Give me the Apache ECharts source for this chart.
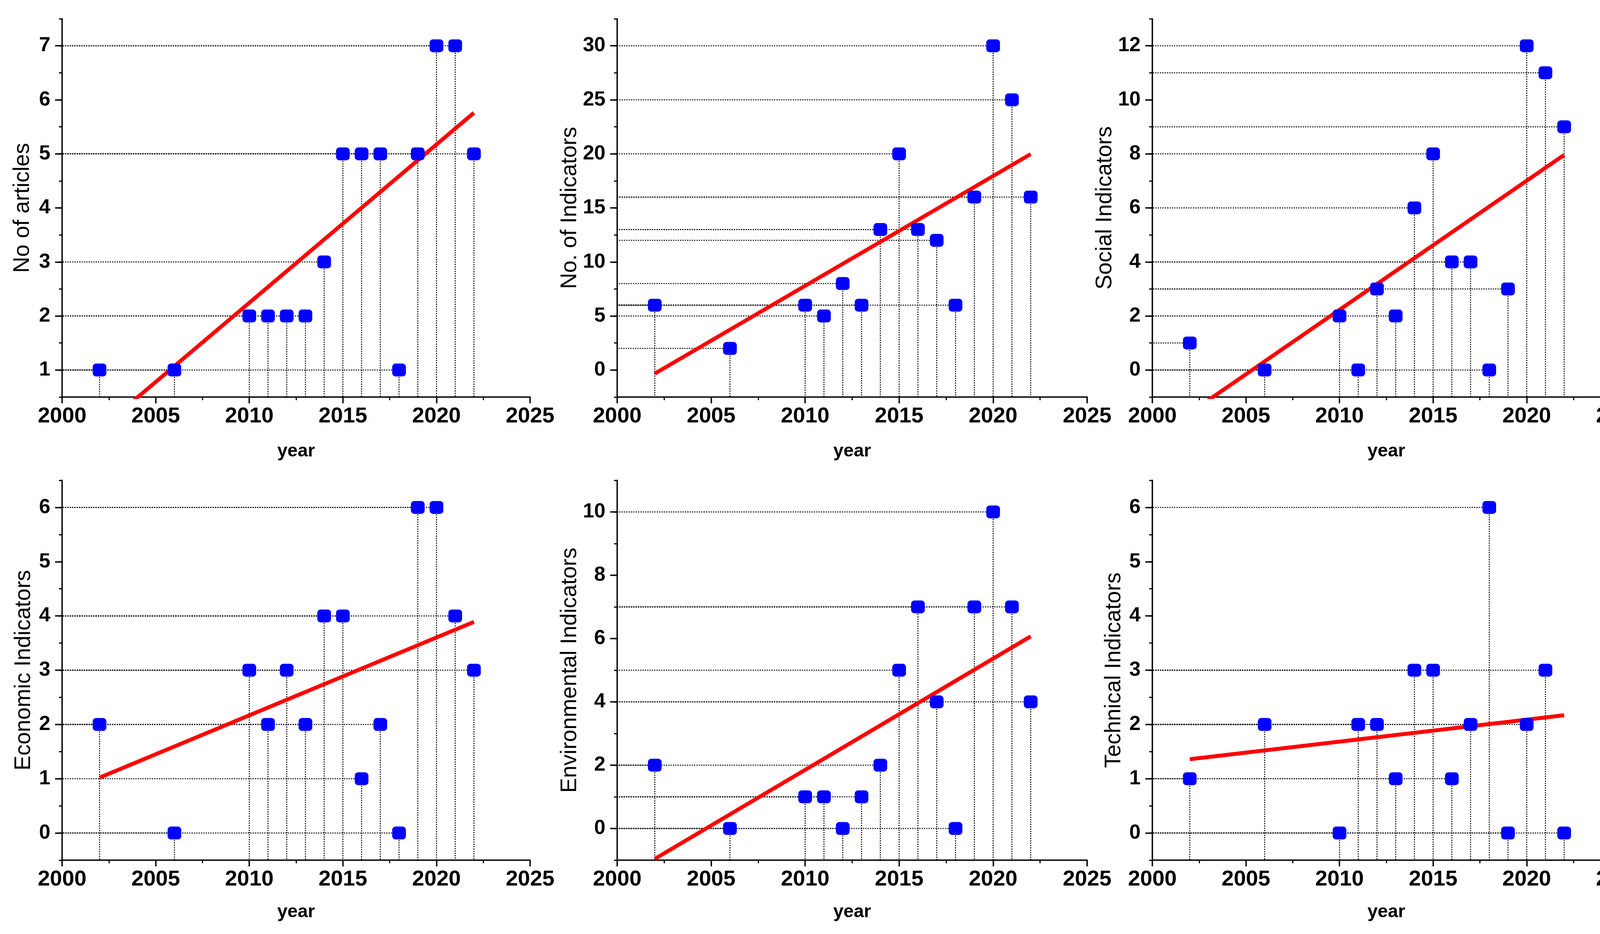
<!DOCTYPE html>
<html><head><meta charset="utf-8">
<script src="https://cdn.jsdelivr.net/npm/echarts@6/dist/echarts.min.js"></script>
<style>html,body{margin:0;padding:0;background:#fff}#c{width:4239px;height:2390px}</style>
</head><body><div id="c"></div>
<script>
// ---------- data ----------
const years = [2002, 2006, 2010, 2011, 2012, 2013, 2014, 2015, 2016, 2017, 2018, 2019, 2020, 2021, 2022];
const articles      = [1, 1, 2, 2, 2, 2, 3, 5, 5, 5, 1, 5, 7, 7, 5];
const indicators    = [6, 2, 6, 5, 8, 6, 13, 20, 13, 12, 6, 16, 30, 25, 16];
const social        = [1, 0, 2, 0, 3, 2, 6, 8, 4, 4, 0, 3, 12, 11, 9];
const economic      = [2, 0, 3, 2, 3, 2, 4, 4, 1, 2, 0, 6, 6, 4, 3];
const environmental = [2, 0, 1, 1, 0, 1, 2, 5, 7, 4, 0, 7, 10, 7, 4];
const technical     = [1, 2, 0, 2, 2, 1, 3, 3, 1, 2, 6, 0, 2, 3, 0];

// linear-fit line end points (value at 2002 and at 2022)
const fitYears          = [2002, 2022];
const fitArticles       = [-0.10, 5.76];
const fitIndicators     = [-0.33, 19.98];
const fitSocial         = [-1.59, 7.96];
const fitEconomic       = [1.02, 3.89];
const fitEnvironmental  = [-0.96, 6.07];
const fitTechnical      = [1.36, 2.17];

const yTitles = ['No of articles', 'No. of Indicators', 'Social Indicators',
                 'Economic Indicators', 'Environmental Indicators', 'Technical Indicators'];
const xTitle = 'year';
const xTicks = [2000, 2005, 2010, 2015, 2020, 2025];
const yTicksArticles      = [1, 2, 3, 4, 5, 6, 7];
const yTicksIndicators    = [0, 5, 10, 15, 20, 25, 30];
const yTicksSocial        = [0, 2, 4, 6, 8, 10, 12];
const yTicksEconomic      = [0, 1, 2, 3, 4, 5, 6];
const yTicksEnvironmental = [0, 2, 4, 6, 8, 10];
const yTicksTechnical     = [0, 1, 2, 3, 4, 5, 6];

// ---------- layout / styles ----------
const panels = [
  {vals: articles,      fit: fitArticles,      ticks: yTicksArticles,      min: 0.5,  max: 7.5,  minor: 0.5, left: 159,  top: 48,   w: 1198, h: 968, gap: 72, xgap: 116},
  {vals: indicators,    fit: fitIndicators,    ticks: yTicksIndicators,    min: -2.5, max: 32.5, minor: 2.5, left: 1580, top: 48,   w: 1203, h: 968, gap: 90, xgap: 116},
  {vals: social,        fit: fitSocial,        ticks: yTicksSocial,        min: -1,   max: 13,   minor: 1,   left: 2950, top: 48,   w: 1198, h: 968, gap: 92, xgap: 116},
  {vals: economic,      fit: fitEconomic,      ticks: yTicksEconomic,      min: -0.5, max: 6.5,  minor: 0.5, left: 159,  top: 1229, w: 1198, h: 972, gap: 69, xgap: 110},
  {vals: environmental, fit: fitEnvironmental, ticks: yTicksEnvironmental, min: -1,   max: 11,   minor: 1,   left: 1580, top: 1229, w: 1203, h: 972, gap: 90, xgap: 110},
  {vals: technical,     fit: fitTechnical,     ticks: yTicksTechnical,     min: -0.5, max: 6.5,  minor: 0.5, left: 2950, top: 1229, w: 1198, h: 972, gap: 69, xgap: 110}
];
const FONT = 'Liberation Sans';
const axisLineStyle = {color: '#000', width: 3.5};
const dropStyle = {color: '#000', width: 2.6, type: [3, 3]};

const grid = [], xAxis = [], yAxis = [], series = [];
panels.forEach((p, i) => {
  grid.push({left: p.left, top: p.top, width: p.w, height: p.h, containLabel: false});
  xAxis.push({
    type: 'value', gridIndex: i, min: xTicks[0], max: xTicks[xTicks.length - 1], interval: 5,
    axisLine: {onZero: false, lineStyle: axisLineStyle},
    axisTick: {length: 16, lineStyle: {color: '#000', width: 3.5}},
    minorTick: {show: true, splitNumber: 2, length: 8, lineStyle: {color: '#000', width: 3}},
    splitLine: {show: false}, minorSplitLine: {show: false},
    axisLabel: {fontFamily: FONT, fontWeight: 'bold', fontSize: 56, color: '#000', margin: 22,
                showMinLabel: true, showMaxLabel: true, hideOverlap: false,
                formatter: v => String(v)},
    name: xTitle, nameLocation: 'middle', nameGap: p.xgap,
    nameTextStyle: {fontFamily: FONT, fontWeight: 'bold', fontSize: 47, color: '#000'}
  });
  const majors = p.ticks;
  yAxis.push({
    type: 'value', gridIndex: i, position: 'left', min: p.min, max: p.max, interval: p.minor,
    axisLine: {onZero: false, lineStyle: axisLineStyle},
    axisTick: {customValues: majors, length: 18, lineStyle: {color: '#000', width: 3.5}},
    axisLabel: {customValues: majors, fontFamily: FONT, fontWeight: 'bold', fontSize: 52, color: '#000', margin: 30,
                showMinLabel: true, showMaxLabel: true, hideOverlap: false,
                formatter: v => (majors.some(m => Math.abs(m - v) < 1e-9) ? String(v) : '')},
    splitLine: {show: false},
    name: yTitles[i], nameLocation: 'middle', nameGap: p.gap, nameRotate: 90,
    nameTextStyle: {fontFamily: FONT, fontSize: 57, color: '#000'}
  });
  yAxis.push({
    type: 'value', gridIndex: i, position: 'left', offset: 0, min: p.min, max: p.max, interval: p.minor,
    axisLine: {show: false, onZero: false},
    axisTick: {show: true, length: 8, lineStyle: {color: '#000', width: 3}},
    axisLabel: {show: false}, splitLine: {show: false}
  });
  const yi = 2 * i;
  // drop lines
  years.forEach((yr, k) => {
    const v = p.vals[k];
    series.push({type: 'line', xAxisIndex: i, yAxisIndex: yi, data: [[yr, v], [xTicks[0], v]],
      symbol: 'none', silent: true, lineStyle: dropStyle, z: 1, animation: false});
    series.push({type: 'line', xAxisIndex: i, yAxisIndex: yi, data: [[yr, v], [yr, p.min]],
      symbol: 'none', silent: true, lineStyle: dropStyle, z: 1, animation: false});
  });
  // fit line
  series.push({type: 'line', xAxisIndex: i, yAxisIndex: yi, clip: true,
    data: fitYears.map((yr, k) => [yr, p.fit[k]]),
    symbol: 'none', silent: true, lineStyle: {color: '#ff0000', width: 10}, z: 3, animation: false});
  // points
  series.push({type: 'scatter', xAxisIndex: i, yAxisIndex: yi,
    data: years.map((yr, k) => [yr, p.vals[k]]),
    symbol: 'roundRect', symbolSize: [35, 33], itemStyle: {color: '#0000ff', opacity: 1}, z: 5, animation: false});
});

const chart = echarts.init(document.getElementById('c'), null, {renderer: 'canvas'});
chart.setOption({animation: false, backgroundColor: '#fff', grid, xAxis, yAxis, series});
</script>
</body></html>
